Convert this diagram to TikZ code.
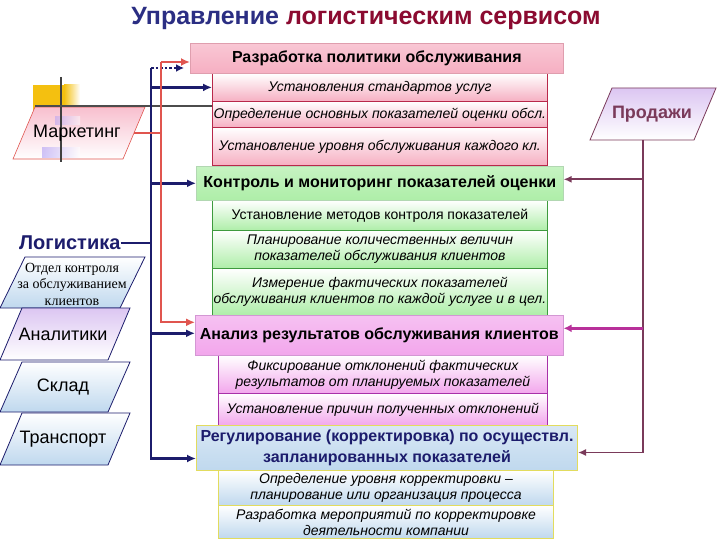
\documentclass[tikz,border=0pt]{standalone}
\usepackage{fontspec}
\setmainfont{Liberation Sans}
\newfontfamily\serifcyr{Liberation Serif}
\usetikzlibrary{arrows.meta,calc}
\definecolor{navy}{HTML}{1C1C6C}
\definecolor{titleblue}{HTML}{2B2E83}
\definecolor{titlered}{HTML}{8B0A30}
\definecolor{redl}{HTML}{E0554F}
\definecolor{plum}{HTML}{7A3A5A}
\definecolor{magl}{HTML}{B8309A}
\definecolor{pinkA}{HTML}{F6AFC2}
\definecolor{pinkB}{HTML}{B8284A}
\definecolor{greenA}{HTML}{AEEEA8}
\definecolor{greenB}{HTML}{3E9A3E}
\definecolor{magA}{HTML}{F2A6EC}
\definecolor{magB}{HTML}{A830A8}
\definecolor{blueA}{HTML}{BFD8EE}
\definecolor{yelB}{HTML}{E2DC5E}
\definecolor{lavA}{HTML}{DCC6F2}
\definecolor{goldA}{HTML}{F4C010}
\tikzset{
  bx/.style={anchor=north west, inner sep=0pt, align=center},
  mainf/.style={font=\fontsize{16}{19}\selectfont\bfseries},
  subf/.style={font=\fontsize{14}{16}\selectfont\itshape},
  pinkmain/.style={bx, mainf, draw=pinkB!45, line width=0.6pt, top color=pinkA!70, middle color=white, bottom color=pinkA},
  pinksub/.style={bx, subf, draw=pinkB, line width=0.8pt, top color=white, bottom color=pinkA},
  greenmain/.style={bx, mainf, draw=greenB!40, line width=0.6pt, top color=greenA!70, middle color=white, bottom color=greenA},
  greensub/.style={bx, subf, draw=greenB, line width=0.8pt, top color=white, bottom color=greenA},
  magmain/.style={bx, mainf, draw=magB!50, line width=0.6pt, top color=magA!70, middle color=white, bottom color=magA},
  magsub/.style={bx, subf, draw=magB, line width=0.8pt, top color=white, bottom color=magA},
  bluemain/.style={bx, font=\fontsize{16}{20.5}\selectfont\bfseries, text=navy, draw=yelB, line width=1pt, top color=blueA!60, middle color=white, bottom color=blueA},
  bluesub/.style={bx, subf, draw=yelB, line width=1pt, top color=white, bottom color=blueA},
  navyln/.style={draw=navy, line width=2.6pt},
  navyarr/.style={navyln, -{Latex[length=9pt,width=8pt]}},
  redln/.style={draw=redl, line width=2pt},
  redarr/.style={redln, -{Latex[length=9pt,width=8pt]}},
  plumln/.style={draw=plum, line width=1.8pt},
  plumarr/.style={plumln, -{Latex[length=8pt,width=7pt]}},
  leftbox/.style={draw=navy, line width=0.8pt, top color=white, bottom color=blueA},
  leftf/.style={font=\fontsize{18}{20}\selectfont},
}
\begin{document}
\begin{tikzpicture}[x=1pt,y=-1pt]
\useasboundingbox (0,0) rectangle (720,540);
\fill[white] (0,0) rectangle (720,540);
% title
\node[font=\fontsize{25}{28}\selectfont\bfseries] (title) at (366,18) {\textcolor{titleblue}{Управление} \textcolor{titlered}{логистическим сервисом}};

% Маркетинг decorations
\fill[goldA] (33,85) rectangle (64,110);
\shade[left color=goldA, right color=white] (64,85) rectangle (80,110);
\shade[top color=pinkA!80, bottom color=white, draw=redl, line width=0.6pt] (13,159) -- (123,159) -- (145,107) -- (35,107) -- cycle;
\shade[left color=lavA!80!blue, right color=white, opacity=0.6] (42,148) rectangle (80,158);
\shade[left color=lavA!80!blue, right color=white, opacity=0.5] (55,117) rectangle (80,125);
\draw[black!75, line width=2pt] (61,77) -- (61,162);
\draw[black!70, line width=2.4pt] (35,106) -- (212,106);
\node[leftf] (mark) at (77,133) {Маркетинг};
\coordinate (markr) at (134,133);

% Логистика
\node[font=\fontsize{20}{22}\selectfont\bfseries, text=navy, anchor=west, inner sep=0pt] (log) at (19,243) {Логистика};

% Отдел контроля
\shade[leftbox] (0,308) -- (120,308) -- (145,257) -- (25,257) -- cycle;
\node[font=\serifcyr\fontsize{14}{16.5}\selectfont, align=center] (otd) at (72,284) {Отдел контроля\\за обслуживанием\\клиентов};
% Аналитики
\shade[draw=navy, line width=0.8pt, top color=lavA, bottom color=white] (0,360) -- (108,360) -- (130,308) -- (22,308) -- cycle;
\node[leftf] (anl) at (63,334) {Аналитики};
% Склад
\shade[leftbox] (0,412) -- (108,412) -- (130,362) -- (22,362) -- cycle;
\node[leftf] (skl) at (63,387) {Склад};
% Транспорт
\shade[leftbox] (0,465) -- (108,465) -- (130,413) -- (22,413) -- cycle;
\node[leftf] (trn) at (63,439) {Транспорт};

% Продажи
\shade[draw=plum, line width=0.8pt, top color=lavA, bottom color=white] (590,140) -- (694,140) -- (716,88) -- (612,88) -- cycle;
\node[font=\fontsize{18}{20}\selectfont\bfseries, text=plum] (prod) at (652,114) {Продажи};

% right column boxes
\node[pinksub, minimum width=335, minimum height=28] (p1) at (212,73) {Установления стандартов услуг};
\node[pinksub, minimum width=335, minimum height=26] (p2) at (212,101) {Определение основных показателей оценки обсл.};
\node[pinksub, minimum width=335, minimum height=38] (p3) at (212,127) {Установление уровня обслуживания каждого кл.};
\node[pinkmain, minimum width=373, minimum height=30] (raz) at (190,43) {Разработка политики обслуживания};

\node[greensub, font=\fontsize{14}{16}\selectfont, minimum width=335, minimum height=30] (g1) at (212,200) {Установление методов контроля показателей};
\node[greensub, minimum width=335, minimum height=38] (g2) at (212,230) {Планирование количественных величин\\показателей обслуживания клиентов};
\node[greensub, minimum width=335, minimum height=47] (g3) at (212,268) {Измерение фактических показателей\\обслуживания клиентов по каждой услуге и в цел.};
\node[greenmain, minimum width=367, minimum height=34] (kon) at (196,166) {Контроль и мониторинг показателей оценки};

\node[magsub, minimum width=329, minimum height=38] (m1) at (218,355) {Фиксирование отклонений фактических\\результатов от планируемых показателей};
\node[magsub, minimum width=329, minimum height=32] (m2) at (218,393) {Установление причин полученных отклонений};
\node[magmain, minimum width=368, minimum height=40] (an) at (195,315) {Анализ результатов обслуживания клиентов};

\node[bluesub, minimum width=335, minimum height=35] (b1) at (218,470) {Определение уровня корректировки –\\планирование или организация процесса};
\node[bluesub, minimum width=335, minimum height=33] (b2) at (218,505) {Разработка мероприятий по корректировке\\деятельности компании};
\node[bluemain, minimum width=381, minimum height=45] (reg) at (196,425) {Регулирование (корректировка) по осуществл.\\запланированных показателей};

% navy bus
\coordinate (nt) at (151,68);
\coordinate (dotend) at (184,68);
\draw[navy, line width=2.6pt, dotted, -{Latex[length=8pt,width=8pt]}] (nt) -- (dotend);
\draw[navyarr] (nt) |- ([yshift=-10.5pt]reg.west);
\draw[navyarr] (p1.west -| nt) -- (p1.west);
\draw[navyarr] (kon.west -| nt) -- (kon.west);
\draw[navyarr] ([yshift=2pt]an.west -| nt) -- ([yshift=2pt]an.west);
\draw[navyln] (log.east) -- (log.east -| nt);

% red bus
\coordinate (rt) at (161,62);
\draw[redarr] (rt) -- (rt -| raz.west);
\draw[redarr] (rt) |- ([yshift=13pt]an.west);
\draw[redln] (markr) -- (markr -| rt);

% plum bus
\coordinate (pt) at (643,140);
\draw[plumln] (pt) -- ([yshift=-4.5pt]reg.east -| pt);
\draw[plumarr] ([yshift=4pt]kon.east -| pt) -- ([yshift=4pt]kon.east);
\draw[draw=magl, line width=2.6pt, -{Latex[length=8pt,width=8pt]}] ([yshift=7pt]an.east -| pt) -- ([yshift=7pt]an.east);
\draw[plumarr] ([yshift=-4.5pt]reg.east -| pt) -- ([yshift=-4.5pt]reg.east);
\end{tikzpicture}
\end{document}
